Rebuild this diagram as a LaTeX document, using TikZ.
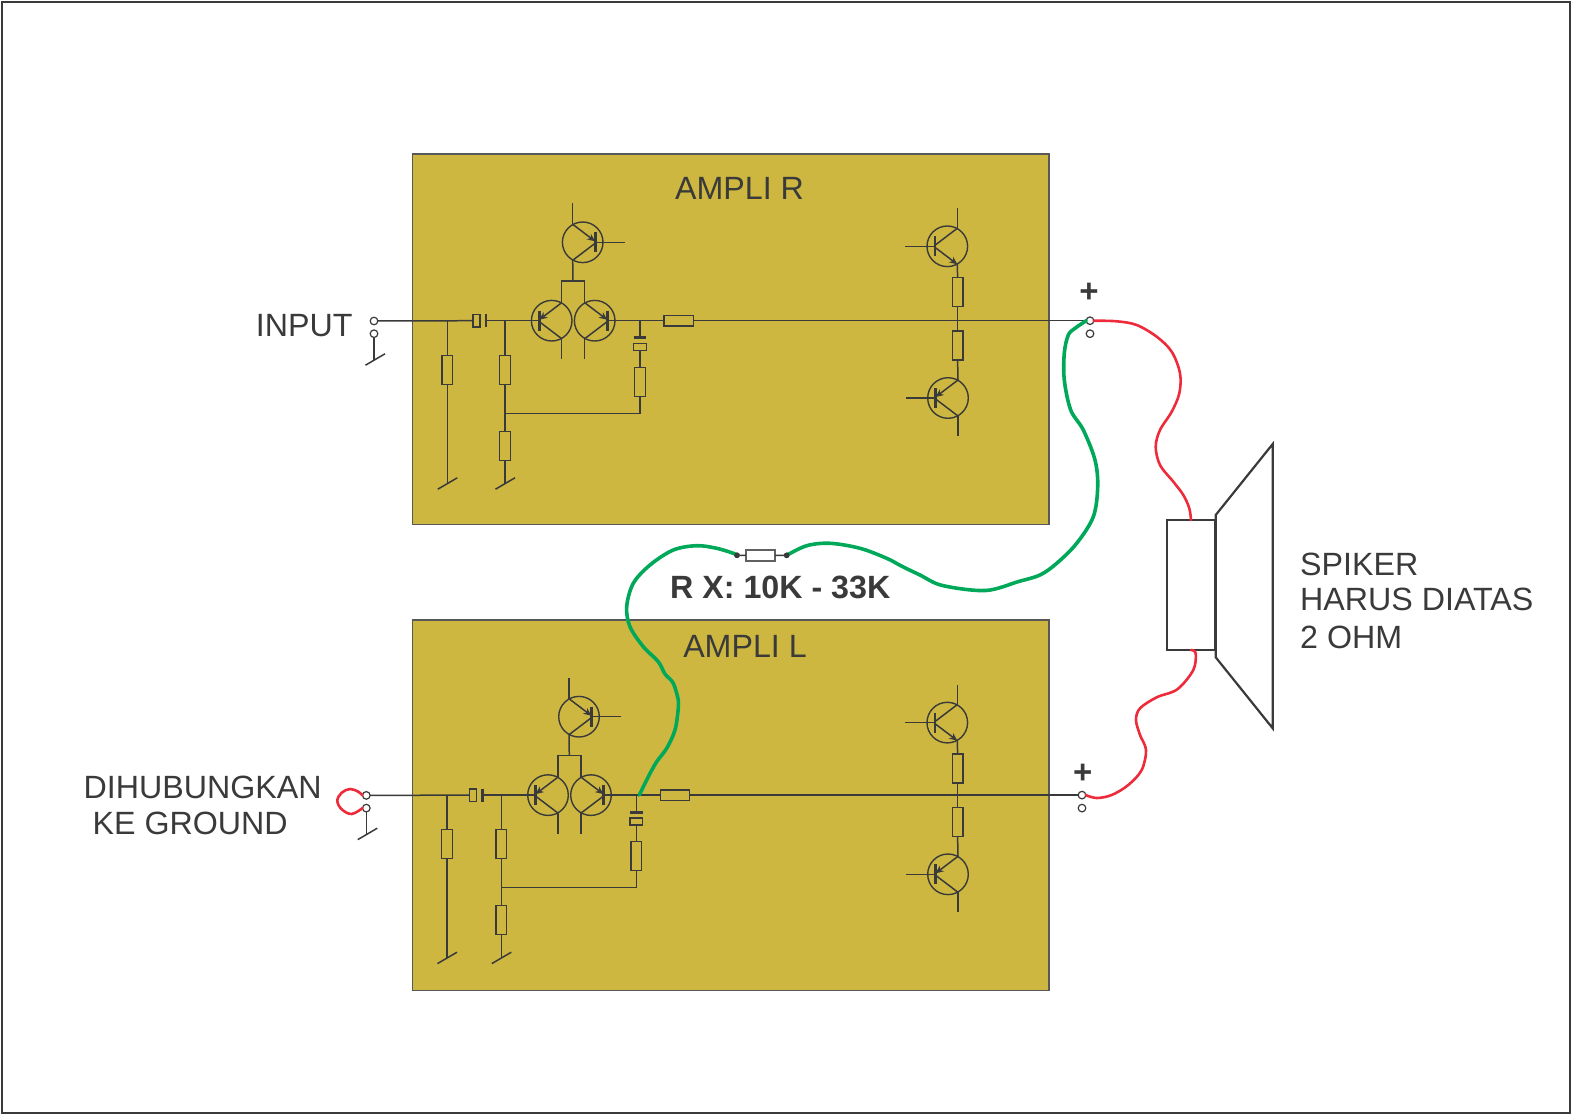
\documentclass[tikz,border=0pt]{standalone}
\usepackage{fontspec}
\setmainfont{Liberation Sans}
\usetikzlibrary{arrows.meta}
\definecolor{ink}{HTML}{3A3A3A}
\definecolor{boardfill}{HTML}{CDB741}
\definecolor{wiregreen}{HTML}{00A859}
\definecolor{wirered}{HTML}{EE2B3B}
\tikzset{
  wire/.style={draw=ink,line width=1.5pt},
  board/.style={draw=ink!85,line width=1.5pt,fill=boardfill},
  resv/.style={draw=ink,line width=1.5pt,minimum width=10.6pt,minimum height=29pt,inner sep=0pt,outer sep=0pt},
  resh/.style={draw=ink,line width=1.5pt,minimum width=29.3pt,minimum height=10.6pt,inner sep=0pt,outer sep=0pt},
  capv/.style={draw=ink,line width=1.5pt,minimum width=12.7pt,minimum height=7pt,inner sep=0pt,outer sep=0pt},
  caph/.style={draw=ink,line width=1.5pt,minimum width=7pt,minimum height=12.7pt,inner sep=0pt,outer sep=0pt},
  plate/.style={draw=ink,line width=2.8pt},
  qcircle/.style={circle,draw=ink,line width=1.4pt,minimum size=40.6pt,inner sep=0pt,outer sep=0pt},
  term/.style={circle,draw=ink,line width=1.2pt,fill=white,minimum size=7.6pt,inner sep=0pt,outer sep=0pt},
  dotn/.style={circle,fill=ink,minimum size=5.6pt,inner sep=0pt,outer sep=0pt},
  lbl/.style={text=ink,font=\fontsize{32.2}{32.2}\selectfont,inner sep=0pt,anchor=base west},
  plusl/.style={text=ink,inner sep=0pt,font=\fontsize{33}{33}\selectfont\bfseries},
  greenw/.style={draw=wiregreen,line width=3.6pt,line cap=round,line join=round},
  redw/.style={draw=wirered,line width=2.6pt,line cap=round,line join=round},
  arrowq/.style={-{Stealth[length=8pt,width=7pt]}},
}
% #1 name, #2 cx, #3 cy, #4 side of the base bar (+1 right, -1 left)
\newcommand\qbase[4]{%
  \node[qcircle] (#1) at (#2,#3) {};
  \coordinate (#1b) at ([shift={(#4*12.4,0)}]#1.center);
  \coordinate (#1t) at ([shift={(#4*-10,-18)}]#1.center);
  \coordinate (#1d) at ([shift={(#4*-10,18)}]#1.center);
  \draw[plate] ([shift={(0,-10)}]#1b) -- ([shift={(0,10)}]#1b);
}
% emitter on top, arrow into the bar
\newcommand\qin[4]{%
  \qbase{#1}{#2}{#3}{#4}
  \draw[wire,arrowq] (#1t) -- ([shift={(0,-1)}]#1b);
  \draw[wire] ([shift={(0,1)}]#1b) -- (#1d);
}
% emitter at the bottom, arrow out of the bar
\newcommand\qout[4]{%
  \qbase{#1}{#2}{#3}{#4}
  \draw[wire] ([shift={(0,-1)}]#1b) -- (#1t);
  \draw[wire,arrowq] ([shift={(0,1)}]#1b) -- (#1d);
}
% #1 prefix, #2 inner dx, #3 dy, #4 J1 x, #5 input terminal x
\newcommand\inputstage[5]{%
  \begin{scope}[shift={(#2,#3)}]
    \node[term] (#1ta) at (#5,321) {};
    \node[term] (#1tb) at (#5,333.7) {};
    \coordinate (#1gi) at (#5,359.5);
    \coordinate (#1gia) at ([shift={(-8.5,5.7)}]#1gi);
    \coordinate (#1gib) at ([shift={(11,-5.7)}]#1gi);
    \draw[wire] (#1tb) -- (#1gi);
    \draw[wire] (#1gia) -- (#1gib);
    % first shunt resistor
    \coordinate (#1j1) at (#4,320.7);
    \node[resv] (#1r1) at (#4,369.8) {};
    \coordinate (#1g1) at (#4,483.5);
    \draw[wire] (#1j1) -- (#1r1.north);
    \draw[wire] (#1r1.south) -- (#1g1);
    \draw[wire] ([shift={(-9.5,5.7)}]#1g1) -- ([shift={(10,-5.7)}]#1g1);
    % coupling capacitor
    \node[caph] (#1c1) at (476.5,320.7) {};
    \coordinate (#1p1) at (486,320.7);
    \draw[plate] ([shift={(0,-6.4)}]#1p1) -- ([shift={(0,6.4)}]#1p1);
    \draw[wire] (#1ta) -- (#1c1.west);
    \coordinate (#1j2) at (505,320.7);
    \node[resv] (#1r2) at (505,369.8) {};
    \node[resv] (#1r3) at (505,445.8) {};
    \coordinate (#1j4) at (505,413.3);
    \coordinate (#1g2) at (505,483.5);
    \draw[wire] (#1j2) -- (#1r2.north);
    \draw[wire] (#1r2.south) -- (#1r3.north);
    \draw[wire] (#1r3.south) -- (#1g2);
    \draw[wire] ([shift={(-9.5,5.7)}]#1g2) -- ([shift={(10,-5.7)}]#1g2);
    % transistors
    \qin{#1qa}{551.7}{320.7}{-1}
    \qin{#1qb}{594.7}{320.7}{1}
    \qin{#1qc}{582.7}{242.3}{1}
    \draw[wire] (#1p1) -- (#1qab);
    \coordinate (#1brl) at (561.7,281);
    \coordinate (#1brr) at (584.7,281);
    \coordinate (#1brm) at (573,281);
    \draw[wire] (#1qad) -- ([shift={(0,20.7)}]#1qad);
    \draw[wire] (#1qbd) -- ([shift={(0,20.7)}]#1qbd);
    \draw[wire] (#1qat) -- (#1brl) -- (#1brr) -- (#1qbt);
    \draw[wire] (#1brm) -- (#1qcd);
    \draw[wire] (#1qct) -- ([shift={(0,-21)}]#1qct);
    \draw[wire] (#1qcb) -- ([shift={(30,0)}]#1qcb);
    % output network
    \coordinate (#1j3) at (640,320.7);
    \coordinate (#1p2) at (640,337.7);
    \draw[plate] ([shift={(-6.4,0)}]#1p2) -- ([shift={(6.4,0)}]#1p2);
    \node[capv] (#1c2) at (640,347.2) {};
    \node[resv] (#1r4) at (640,381.8) {};
    \node[resh] (#1r5) at (678.6,320.7) {};
    \draw[wire] (#1qbb) -- (#1r5.west);
    \draw[wire] (#1j3) -- (#1p2);
    \draw[wire] (#1c2.south) -- (#1r4.north);
    \draw[wire] (#1r4.south) -- (#1j3 |- #1j4) -- (#1j4);
  \end{scope}
}
% #1 prefix, #2 dy of the stage, #3 output terminal x, #4 dy of the terminals
\newcommand\outputstage[4]{%
  \begin{scope}[shift={(0,#4)}]
    \node[term] (#1oa) at (#3,320.7) {};
    \node[term] (#1ob) at (#3,333.7) {};
  \end{scope}
  \begin{scope}[shift={(0,#2)}]
    \qout{#1qd}{947.3}{246.3}{-1}
    \qin{#1qe}{948}{398}{-1}
    \draw[wire] (#1qdt) -- ([shift={(0,-20)}]#1qdt);
    \draw[wire] (#1qdb) -- ([shift={(-30,0)}]#1qdb);
    \draw[wire] (#1qed) -- ([shift={(0,20)}]#1qed);
    \draw[wire] (#1qeb) -- ([shift={(-30,0)}]#1qeb);
    \node[resv] (#1r6) at (957.6,292) {};
    \node[resv] (#1r7) at (957.6,345.7) {};
    \draw[wire] (#1qdd) -- (#1r6.north);
    \draw[wire] (#1r6.south) -- (#1r7.north);
    \draw[wire] (#1r7.south) -- (#1qet);
  \end{scope}
}
\begin{document}
\begin{tikzpicture}[x=1pt,y=-1pt]
\useasboundingbox (0,0) rectangle (1572,1116);
\node[draw=ink,line width=2.5pt,minimum width=1568pt,minimum height=1111pt,inner sep=0pt,outer sep=0pt] (frame) at (786,557.5) {};
\node[board,minimum width=636.5pt,minimum height=370.5pt,inner sep=0pt] (boardR) at (730.9,339) {};
\node[board,minimum width=636.5pt,minimum height=370.5pt,inner sep=0pt] (boardL) at (730.9,805) {};

\inputstage{R}{0}{0}{447.3}{374}
\outputstage{R}{0}{1090}{0}
\draw[wire] (Rr5.east) -- (Roa.west);
\inputstage{L}{-3.7}{474.4}{450.7}{370}
\outputstage{L}{476.3}{1082}{474.4}
\draw[wire] (Lr5.east) -- (Loa.west);

% labels
\node[lbl,anchor=base] (ampR) at (739.5,199.5) {AMPLI R};
\node[lbl,anchor=base] (ampL) at (745,657.3) {AMPLI L};
\node[lbl] (inp) at (255.7,336) {INPUT};
\node[lbl] (dih) at (83.5,798) {DIHUBUNGKAN};
\node[lbl] (keg) at (92.5,834) {KE GROUND};
\node[lbl] (sp1) at (1300,575.5) {SPIKER};
\node[lbl] (sp2) at (1300,610.5) {HARUS DIATAS};
\node[lbl] (sp3) at (1300,648) {2 OHM};
\node[lbl,font=\fontsize{32.2}{32.2}\selectfont\bfseries] (rx) at (670,598) {R X: 10K - 33K};
\node[plusl] (plusR) at (1089,293) {+};
\node[plusl] (plusL) at (1082.7,774) {+};

% speaker
\node[draw=ink,line width=2.2pt,minimum width=48.5pt,minimum height=130pt,inner sep=0pt,outer sep=0pt] (coil) at (1191,585) {};
\coordinate (c1) at (1215.7,515);
\coordinate (c2) at (1272.7,444);
\coordinate (c3) at (1272.7,728.3);
\coordinate (c4) at (1215.7,657.3);
\draw[draw=ink,line width=2.2pt,line join=miter] (c1) -- (c2) -- (c3) -- (c4) -- cycle;

% RX
\node[resh,fill=white,draw=ink!80] (rx1) at (760.4,555.5) {};
\node[dotn] (dl) at (737,555.3) {};
\node[dotn] (dr) at (786.7,555.3) {};
\draw[wire] (dl) -- (rx1.west);
\draw[wire] (rx1.east) -- (dr);
\coordinate (gend) at ([shift={(3,0)}]Lj3);

% wires
\draw[greenw] plot[smooth,tension=0.55] coordinates {(Roa.west) (1075,328.3) (1068.3,335) (1064.3,353) (1064.3,380) (1070.7,410) (1083.3,430) (1095,460) (1097.7,486.7) (1093.3,516.7) (1076.7,543.3) (1056.7,563.3) (1040,575) (1018.6,581.5) (985.5,590.5) (942.4,585.5) (920,575) (902.3,566.5) (886.7,558.3) (860,548.3) (830,543.3) (806.7,545.7) (dr)};
\draw[greenw] plot[smooth,tension=0.55] coordinates {(dl) (733.3,553.3) (716.7,548.3) (696.7,545.7) (673.3,550) (650,565) (633.3,583.3) (626.7,606.7) (630,626.7) (643.3,646.7) (658.3,661.7) (665,674) (673.3,683.3) (678.3,700) (678.3,708.3) (675,730) (666.7,748.3) (656.7,761.7) (648.3,776.7) (gend)};
\node[dotn] at (dl) {};
\node[dotn] at (dr) {};
\draw[redw] plot[smooth,tension=0.55] coordinates {(Roa.east) (1116.7,321.3) (1136.7,325) (1156.7,336.7) (1171.7,351.7) (1180,373.3) (1179.3,393.3) (1171.7,411.7) (1160,430) (1155.7,446.7) (1160,465) (1173.3,481.7) (1183.3,495) (1189.3,508.3) (coil.north)};
\draw[redw] plot[smooth,tension=0.55] coordinates {(coil.south) (1195.7,653.3) (1193.3,670) (1177.3,689.3) (1156.7,697.3) (1140,708.3) (1136,720) (1140,735) (1146,750) (1141.7,770) (1128.3,785) (1111.7,795) (1096.7,798) (Loa.east)};
\draw[redw] plot[smooth,tension=0.6] coordinates {(Lta.west) (358.3,791.7) (350,789) (341.7,792.7) (337.3,800.7) (341.7,809.3) (351.7,814) (Ltb.west)};
\end{tikzpicture}
\end{document}
